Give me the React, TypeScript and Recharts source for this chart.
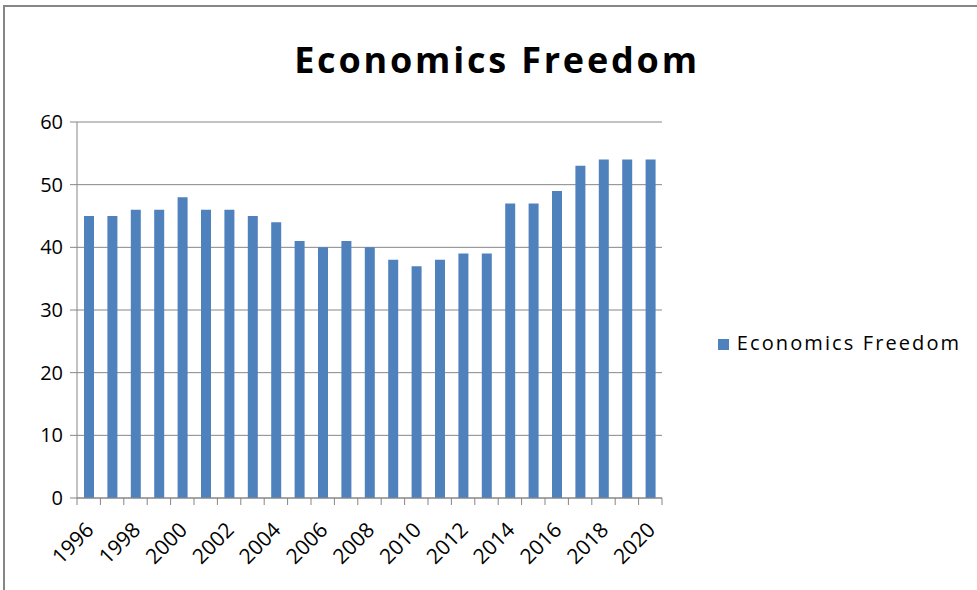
import React from 'react';
import { BarChart, Bar, XAxis, YAxis, CartesianGrid, Legend } from 'recharts';

const years = [
  '1996', '1997', '1998', '1999', '2000', '2001', '2002', '2003', '2004', '2005',
  '2006', '2007', '2008', '2009', '2010', '2011', '2012', '2013', '2014', '2015',
  '2016', '2017', '2018', '2019', '2020',
];
const freedom = [
  45, 45, 46, 46, 48, 46, 46, 45, 44, 41,
  40, 41, 40, 38, 37, 38, 39, 39, 47, 47,
  49, 53, 54, 54, 54,
];
const yTicks = [0, 10, 20, 30, 40, 50, 60];

const data = years.map((y, i) => ({ year: y, value: freedom[i] }));

const FONT = '"Open Sans", "Liberation Sans", sans-serif';
const GRID = '#868686';
const BAR = '#4F81BD';

const PLOT_LEFT = 77;
const PLOT_RIGHT = 662;
const BAND = (PLOT_RIGHT - PLOT_LEFT) / years.length;

// Excel style: tick marks between categories, label every other year, rotated
function YearTick(props: any) {
  const { x, y, index, payload } = props;
  const half = payload && payload.offset ? payload.offset : BAND / 2;
  const last = index === years.length - 1;
  const ax = x + 1;
  const ay = y + 28;
  return (
    <g>
      <line x1={x - half} x2={x - half} y1={y} y2={y + 7} stroke={GRID} />
      {last && <line x1={x + half} x2={x + half} y1={y} y2={y + 7} stroke={GRID} />}
      {index % 2 === 0 && (
        <text
          x={ax}
          y={ay}
          textAnchor="end"
          dy="0.35em"
          transform={`rotate(-45, ${ax}, ${ay})`}
          fontFamily={FONT}
          fontSize={21}
          fill="#000"
        >
          {payload.value}
        </text>
      )}
    </g>
  );
}

export default function App() {
  return (
    <div style={{ position: 'absolute', left: 0, top: 0, width: 977, height: 590, background: '#fff', overflow: 'hidden' }}>
      <div
        style={{
          position: 'absolute',
          left: 3,
          top: 5,
          width: 990,
          height: 600,
          borderTop: `2px solid ${GRID}`,
          borderLeft: `2px solid ${GRID}`,
        }}
      />
      <div
        style={{
          position: 'absolute',
          left: 0,
          top: 36,
          width: 994,
          textAlign: 'center',
          fontFamily: FONT,
          fontWeight: 700,
          fontSize: 36,
          letterSpacing: 2.8,
          lineHeight: '48px',
          color: '#000',
        }}
      >
        Economics Freedom
      </div>
      <BarChart
        width={977}
        height={590}
        data={data}
        margin={{ top: 122, right: 977 - PLOT_RIGHT, bottom: 12, left: 0 }}
        barSize={10}
      >
        <CartesianGrid vertical={false} stroke={GRID} />
        <XAxis
          dataKey="year"
          interval={0}
          height={80}
          stroke={GRID}
          tickLine={false}
          tickSize={0}
          tickMargin={0}
          tick={<YearTick />}
        />
        <YAxis
          width={PLOT_LEFT}
          domain={[0, 60]}
          ticks={yTicks}
          interval={0}
          stroke={GRID}
          tickSize={7}
          tickMargin={7}
          tick={{ fill: '#000', fontSize: 20, fontFamily: FONT }}
        />
        <Legend
          layout="horizontal"
          align="center"
          verticalAlign="middle"
          iconType="square"
          iconSize={11}
          wrapperStyle={{
            position: 'absolute',
            left: 712,
            top: 329,
            width: 265,
            textAlign: 'left',
            fontFamily: FONT,
            fontSize: 20,
          }}
          formatter={(v: string) => <span style={{ color: '#000', letterSpacing: 2.1, marginLeft: 4 }}>{v}</span>}
        />
        <Bar dataKey="value" name="Economics Freedom" fill={BAR} isAnimationActive={false} />
      </BarChart>
    </div>
  );
}
